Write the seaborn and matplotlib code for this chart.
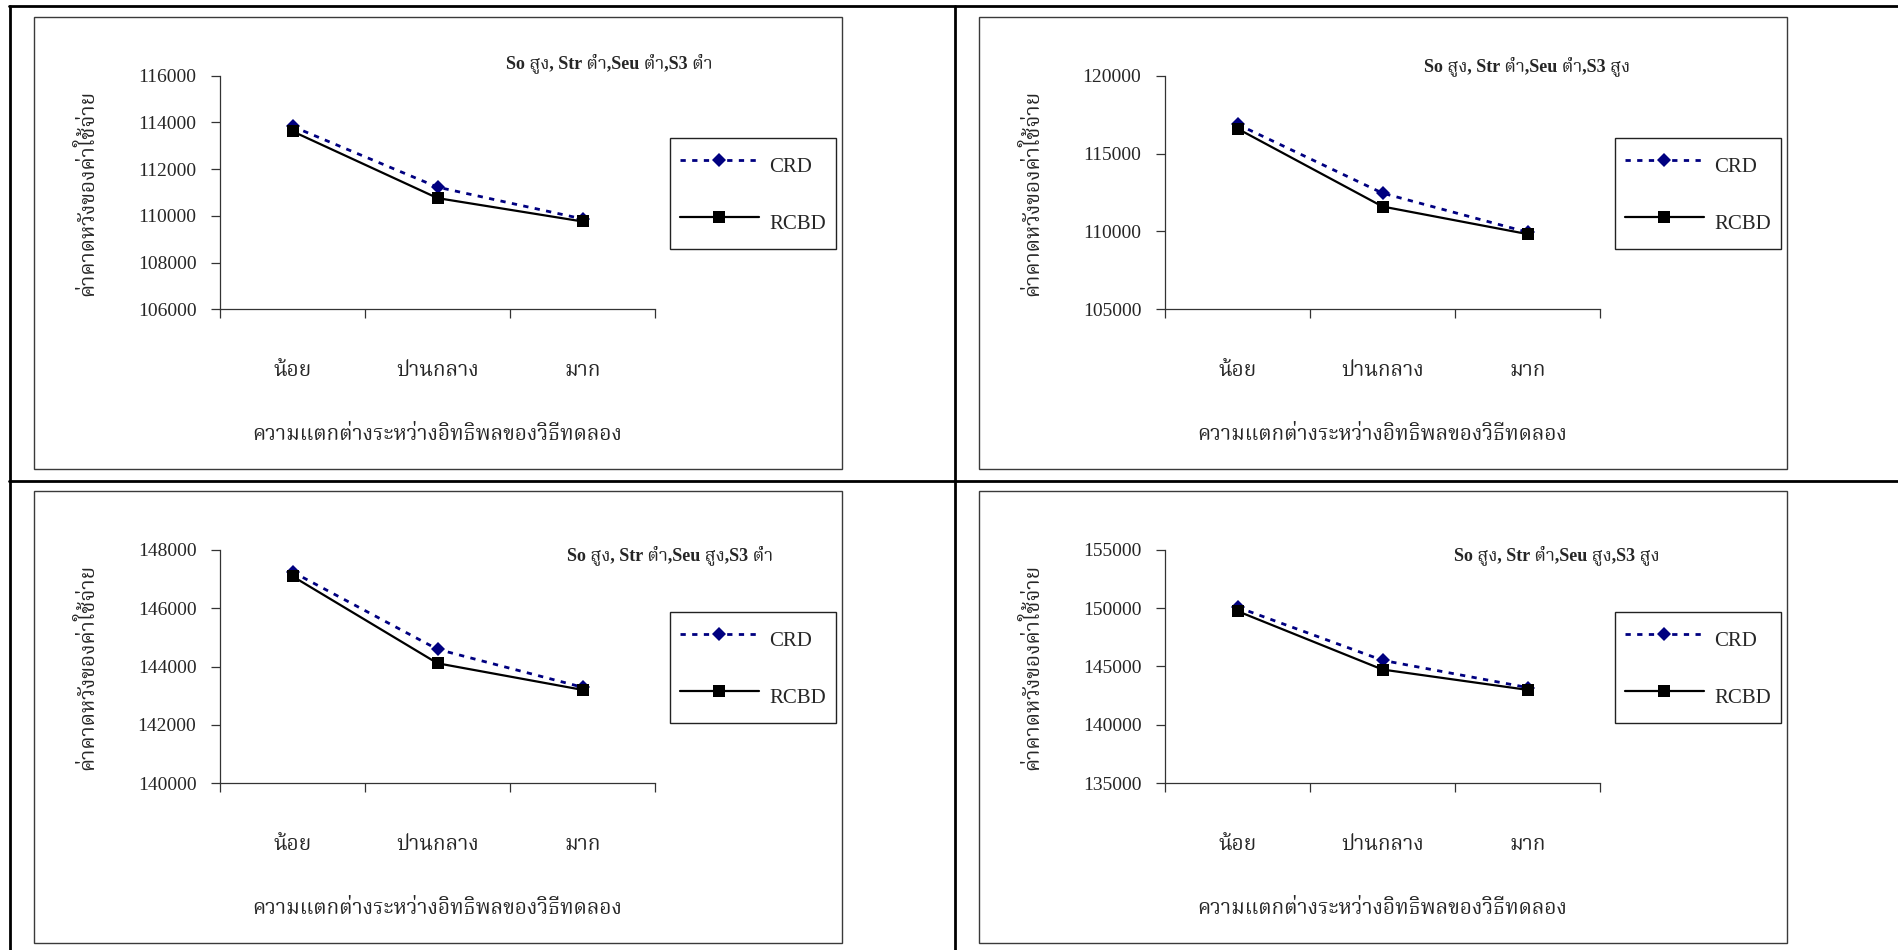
import numpy as np
import pandas as pd
import matplotlib
matplotlib.use("Agg")
import matplotlib.pyplot as plt
import seaborn as sns
from matplotlib import font_manager
from matplotlib.ft2font import FT2Font
from matplotlib.lines import Line2D
from matplotlib.patches import Rectangle

# ---------------------------------------------------------------- data
categories = ["น้อย", "ปานกลาง", "มาก"]
designs = ["CRD", "RCBD"]

titles = [
    "So สูง, Str ต่ำ,Seu ต่ำ,S3 ต่ำ",
    "So สูง, Str ต่ำ,Seu ต่ำ,S3 สูง",
    "So สูง, Str ต่ำ,Seu สูง,S3 ต่ำ",
    "So สูง, Str ต่ำ,Seu สูง,S3 สูง",
]

crd_seu_low_s3_low = [113830, 111230, 109870]
rcbd_seu_low_s3_low = [113620, 110760, 109760]
crd_seu_low_s3_high = [116880, 112460, 109950]
rcbd_seu_low_s3_high = [116600, 111600, 109830]
crd_seu_high_s3_low = [147240, 144590, 143290]
rcbd_seu_high_s3_low = [147090, 144110, 143200]
crd_seu_high_s3_high = [150080, 145530, 143200]
rcbd_seu_high_s3_high = [149740, 144740, 143000]

yticks_seu_low_s3_low = [106000, 108000, 110000, 112000, 114000, 116000]
yticks_seu_low_s3_high = [105000, 110000, 115000, 120000]
yticks_seu_high_s3_low = [140000, 142000, 144000, 146000, 148000]
yticks_seu_high_s3_high = [135000, 140000, 145000, 150000, 155000]

x_label = "ความแตกต่างระหว่างอิทธิพลของวิธีทดลอง"
y_label = "ค่าคาดหวังของค่าใช้จ่าย"


# ---------------------------------------------------------------- fonts
def thai_family():
    found = {}
    for entry in font_manager.fontManager.ttflist:
        try:
            cmap = FT2Font(entry.fname).get_charmap()
        except Exception:
            continue
        if 0x0E2A in cmap and 0x0E07 in cmap and 0x0E19 in cmap:
            found.setdefault(entry.name, set()).add(entry.weight)
    for pref in ("Noto Serif Thai", "Noto Sans Thai", "Noto Sans Thai Looped",
                 "Norasi", "Kinnari", "Loma", "Garuda", "Sarabun", "Tlwg Typo"):
        if pref in found:
            return pref
    return sorted(found)[0] if found else "DejaVu Sans"


THAI = thai_family()

sns.set_style("ticks")
plt.rcParams["font.family"] = ["Liberation Serif", THAI, "DejaVu Sans"]
plt.rcParams["axes.unicode_minus"] = False

# ---------------------------------------------------------------- layout
W, H = 1898, 950
fig = plt.figure(figsize=(W / 100, H / 100), dpi=100)
fig.patch.set_facecolor("white")


def fx(px):
    return px / W


def fy(py):
    return 1 - py / H


AX_COLOR = "#333333"
palette = {"CRD": "#000080", "RCBD": "black"}
markers = {"CRD": "D", "RCBD": "s"}
dashes = {"CRD": (1.9, 2.3), "RCBD": ""}

panels = [
    (0, 0, titles[0], crd_seu_low_s3_low, rcbd_seu_low_s3_low, yticks_seu_low_s3_low, (609, 63)),
    (945, 0, titles[1], crd_seu_low_s3_high, rcbd_seu_low_s3_high, yticks_seu_low_s3_high, (1527, 66)),
    (0, 474, titles[2], crd_seu_high_s3_low, rcbd_seu_high_s3_low, yticks_seu_high_s3_low, (670, 555)),
    (945, 474, titles[3], crd_seu_high_s3_high, rcbd_seu_high_s3_high, yticks_seu_high_s3_high, (1557, 555)),
]

# table rules around the four charts
for xs, ys in [
    ([fx(9), 1.0], [fy(6), fy(6)]),
    ([fx(9), 1.0], [fy(481), fy(481)]),
    ([fx(9.5), fx(9.5)], [fy(6), 0.0]),
    ([fx(955), fx(955)], [fy(6), 0.0]),
]:
    fig.add_artist(Line2D(xs, ys, transform=fig.transFigure, color="black", lw=2.0))

for dx, dy, title, crd, rcbd, yticks, tpos in panels:
    # chart area border
    fig.add_artist(Rectangle((fx(34 + dx), fy(469 + dy)), (842 - 34) / W, (469 - 17) / H,
                             transform=fig.transFigure, fill=False,
                             edgecolor="#3a3a3a", lw=1.0))

    top, bottom = 75.7 + dy, 309.3 + dy
    left, right = 220 + dx, 655 + dx
    ax = fig.add_axes([fx(left), fy(bottom), (right - left) / W, (bottom - top) / H])
    ax.set_facecolor("white")

    df = pd.DataFrame({
        "level": np.tile(np.arange(len(categories)), len(designs)),
        "cost": list(crd) + list(rcbd),
        "design": np.repeat(designs, len(categories)),
    })
    sns.lineplot(data=df, x="level", y="cost", hue="design", style="design",
                 hue_order=designs, style_order=designs, palette=palette,
                 markers=markers, dashes=dashes, linewidth=1.6, markersize=7,
                 errorbar=None, sort=False, legend=False, ax=ax)

    by_marker = {}
    for line in ax.lines:
        line.set_markeredgecolor(line.get_color())
        line.set_markerfacecolor(line.get_color())
        line.set_markeredgewidth(0)
        if line.get_marker() == "D":
            line.set_markersize(7.0)
            line.set_linewidth(2.0)
        else:
            line.set_markersize(8.5)
        line.set_clip_on(False)
        by_marker[line.get_marker()] = line

    ax.set_xlim(-0.5, len(categories) - 0.5)
    ax.set_ylim(yticks[0], yticks[-1])

    sns.despine(ax=ax)
    for side in ("left", "bottom"):
        ax.spines[side].set_color(AX_COLOR)
        ax.spines[side].set_linewidth(0.9)

    ax.set_xticks(np.arange(len(categories) + 1) - 0.5)
    ax.set_xticklabels([])
    ax.set_xticks(np.arange(len(categories)), minor=True)
    ax.set_xticklabels(categories, minor=True, fontsize=15)
    ax.tick_params(axis="x", which="major", direction="out", length=6.5,
                   width=0.9, color=AX_COLOR)
    ax.tick_params(axis="x", which="minor", length=0, pad=38)

    ax.set_yticks(yticks)
    ax.set_yticklabels([str(v) for v in yticks], fontsize=14)
    ax.tick_params(axis="y", direction="out", length=6.5, width=0.9,
                   color=AX_COLOR, pad=10.5)

    ax.set_xlabel(x_label, fontsize=15)
    ax.xaxis.set_label_coords(0.5, -(436 + dy - bottom) / (bottom - top))
    ax.xaxis.label.set_va("center")
    ax.set_ylabel(y_label, fontsize=15)
    ax.yaxis.set_label_coords((87 + dx - left) / (right - left), 0.5)
    ax.yaxis.label.set_va("center")

    leg = ax.legend([by_marker["D"], by_marker["s"]], designs,
                    loc="upper left", bbox_to_anchor=(fx(670 + dx), fy(138 + dy)),
                    bbox_transform=fig.transFigure, frameon=True, fancybox=False,
                    edgecolor="#222222", framealpha=1, borderpad=0.5,
                    labelspacing=1.13, handlelength=3.75, handleheight=2.1,
                    handletextpad=0.5, borderaxespad=0, numpoints=1,
                    prop={"family": ["Liberation Serif"], "size": 15})
    leg.get_frame().set_linewidth(1.0)

    fig.text(fx(tpos[0]), fy(tpos[1]), title, ha="center", va="center",
             fontsize=13, fontweight="bold")

fig.savefig("out.png", dpi=100, facecolor="white")
